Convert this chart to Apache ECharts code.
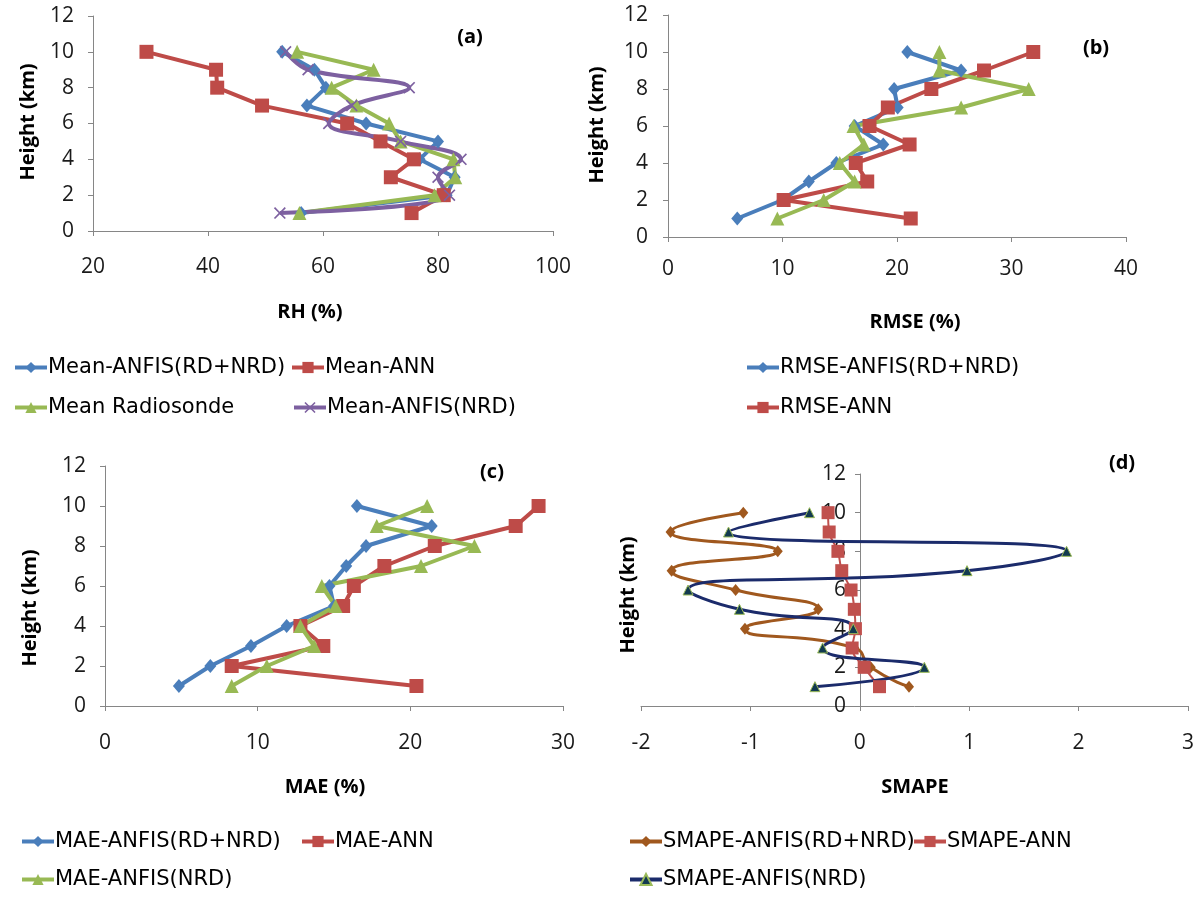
<!DOCTYPE html>
<html><head><meta charset="utf-8">
<script src="https://cdn.jsdelivr.net/npm/echarts@6/dist/echarts.min.js"></script>
<style>html,body{margin:0;padding:0;background:#fff}#c{width:1201px;height:899px}</style>
</head><body><div id="c"></div>
<script>
const heights=[1,2,3,4,5,6,7,8,9,10];
// (a) RH (%)
const rhAnfisRdNrd=[56.2,81.5,82.9,76.8,80,67.5,57.2,60.5,58.5,52.9];
const rhAnn=[75.4,81,71.8,75.8,70,64.2,49.4,41.6,41.4,29.3];
const rhRadiosonde=[55.9,79.4,83,82.7,73.5,71.5,65.8,61.5,68.8,55.5];
const rhAnfisNrd=[52.5,82,80,84,73.5,61,65,75,57.4,53.5];
// (b) RMSE (%)
const rmseAnfisRdNrd=[6.05,10,12.3,14.7,18.8,16.3,20.06,19.75,25.6,20.9];
const rmseAnn=[21.2,10.1,17.4,16.4,21.1,17.6,19.2,23,27.6,31.9];
const rmseAnfisNrd=[9.55,13.6,16.3,15,17.1,16.2,25.6,31.5,23.7,23.7];
// (c) MAE (%)
const maeAnfisRdNrd=[4.84,6.9,9.56,11.9,15.0,14.7,15.8,17.1,21.4,16.5];
const maeAnn=[20.4,8.3,14.3,12.8,15.6,16.3,18.3,21.6,26.9,28.4];
const maeAnfisNrd=[8.3,10.6,13.7,12.8,15.1,14.2,20.7,24.2,17.8,21.1];
// (d) SMAPE
const smapeAnfisRdNrd=[0.45,0.1,-0.05,-1.05,-0.38,-1.135,-1.72,-0.75,-1.73,-1.065];
const smapeAnn=[0.18,0.04,-0.07,-0.04,-0.05,-0.08,-0.165,-0.2,-0.28,-0.29];
const smapeAnfisNrd=[-0.41,0.59,-0.34,-0.06,-1.1,-1.57,0.98,1.89,-1.2,-0.46];

const BLUE='#4A7EBB', RED='#BE4B48', GREEN='#98B954', PURPLE='#7D60A0', BROWN='#A0581E', NAVY='#1B2B6B';
const XSYM='path://M0,1 L1,0 L5,4 L9,0 L10,1 L6,5 L10,9 L9,10 L5,6 L1,10 L0,9 L4,5 Z';
const TICKF='Open Sans';
function pts(v){return v.map((x,i)=>[x,heights[i]]);}

const grids=[
 {left:93,top:16,width:460,height:215},
 {left:668,top:15,width:458,height:222},
 {left:105,top:466,width:458,height:240},
 {left:641,top:474,width:547,height:232}
];
const xSpec=[[20,100,20,26],[0,40,10,22],[0,30,10,27],[-2,3,1,27]];
const yMargins=[19,20,19,14];
const yOffsets=[0,0,0,-219];
const axisLine={lineStyle:{color:'#868686',width:1}};
const xAxis=xSpec.map((s,i)=>({type:'value',gridIndex:i,min:s[0],max:s[1],interval:s[2],
  axisLine:Object.assign({onZero:false},axisLine),axisTick:{show:true,length:5,lineStyle:{color:'#868686'}},splitLine:{show:false},
  axisLabel:{margin:s[3],fontFamily:TICKF,fontSize:21,color:'#1a1a1a'}}));
const yAxis=grids.map((g,i)=>({type:'value',gridIndex:i,min:0,max:12,interval:2,position:'left',offset:yOffsets[i],
  axisLine:Object.assign({onZero:false},axisLine),axisTick:{show:true,length:5,lineStyle:{color:'#868686'}},splitLine:{show:false},
  axisLabel:{margin:yMargins[i],fontFamily:TICKF,fontSize:21,color:'#1a1a1a'}}));

function ser(name,vals,gi,color,symbol,size,opts){
  return Object.assign({name:name,type:'line',xAxisIndex:gi,yAxisIndex:gi,data:pts(vals),
    symbol:symbol,symbolSize:size,lineStyle:{color:color,width:4},itemStyle:{color:color},
    smooth:false,z:2},opts||{});
}
const series=[
 ser('Mean-ANFIS(RD+NRD)',rhAnfisRdNrd,0,BLUE,'diamond',[12,14]),
 ser('Mean-ANN',rhAnn,0,RED,'rect',14),
 ser('Mean Radiosonde',rhRadiosonde,0,GREEN,'triangle',14),
 ser('Mean-ANFIS(NRD)',rhAnfisNrd,0,PURPLE,XSYM,12,{smooth:0.4,smoothConstraint:false}),
 ser('RMSE-ANFIS(RD+NRD)',rmseAnfisRdNrd,1,BLUE,'diamond',[12,14]),
 ser('RMSE-ANN',rmseAnn,1,RED,'rect',14),
 ser('RMSE-ANFIS(NRD)',rmseAnfisNrd,1,GREEN,'triangle',14),
 ser('MAE-ANFIS(RD+NRD)',maeAnfisRdNrd,2,BLUE,'diamond',[12,14]),
 ser('MAE-ANN',maeAnn,2,RED,'rect',14),
 ser('MAE-ANFIS(NRD)',maeAnfisNrd,2,GREEN,'triangle',14),
 ser('SMAPE-ANFIS(RD+NRD)',smapeAnfisRdNrd,3,BROWN,'diamond',[10,12],{smooth:0.55,smoothConstraint:false,lineStyle:{color:BROWN,width:3}}),
 ser('SMAPE-ANN',smapeAnn,3,'#C0504D','rect',13,{smooth:0.4,lineStyle:{color:'#C0504D',width:2}}),
 ser('SMAPE-ANFIS(NRD)',smapeAnfisNrd,3,NAVY,'triangle',10,{smooth:0.55,smoothConstraint:false,lineStyle:{color:NAVY,width:3},itemStyle:{color:'#123a50',borderColor:'#9BBB59',borderWidth:1}})
];

const legendItems=[
 ['Mean-ANFIS(RD+NRD)',13,357],['Mean-ANN',290,357],['Mean Radiosonde',13,397],['Mean-ANFIS(NRD)',292,397],
 ['RMSE-ANFIS(RD+NRD)',745,357],['RMSE-ANN',745,397],
 ['MAE-ANFIS(RD+NRD)',20,831],['MAE-ANN',300,831],['MAE-ANFIS(NRD)',20,869],
 ['SMAPE-ANFIS(RD+NRD)',628,831],['SMAPE-ANN',912,831],['SMAPE-ANFIS(NRD)',628,869]
];
const legend=legendItems.map(l=>({data:[l[0]],left:l[1],top:l[2],padding:0,itemWidth:32,itemHeight:14,itemGap:0,
  selectedMode:false,lineStyle:{width:4},textStyle:{fontFamily:'DejaVu Sans',fontSize:21,color:'#000',padding:[0,0,0,-4]}}));

function txt(t,x,y,size,rot){
  return {type:'text',x:x,y:y,rotation:rot||0,silent:true,
    style:{text:t,fontFamily:TICKF,fontWeight:'bold',fontSize:size,fill:'#000',
      textAlign:'center',textVerticalAlign:'middle',align:'center',verticalAlign:'middle'}};
}
const graphic=[
 txt('(a)',470,37,20), txt('(b)',1096,48,20), txt('(c)',492,472,20), txt('(d)',1122,463,20),
 txt('RH (%)',310,312,20), txt('RMSE (%)',915,322,20), txt('MAE (%)',325,787,20), txt('SMAPE',915,787,20),
 txt('Height (km)',28,122,20,Math.PI/2), txt('Height (km)',597,125,20,Math.PI/2),
 txt('Height (km)',30,608,20,Math.PI/2), txt('Height (km)',628,595,20,Math.PI/2)
];

const chart=echarts.init(document.getElementById('c'));
chart.setOption({animation:false,backgroundColor:'#fff',grid:grids,xAxis:xAxis,yAxis:yAxis,series:series,legend:legend,graphic:graphic});
</script></body></html>
